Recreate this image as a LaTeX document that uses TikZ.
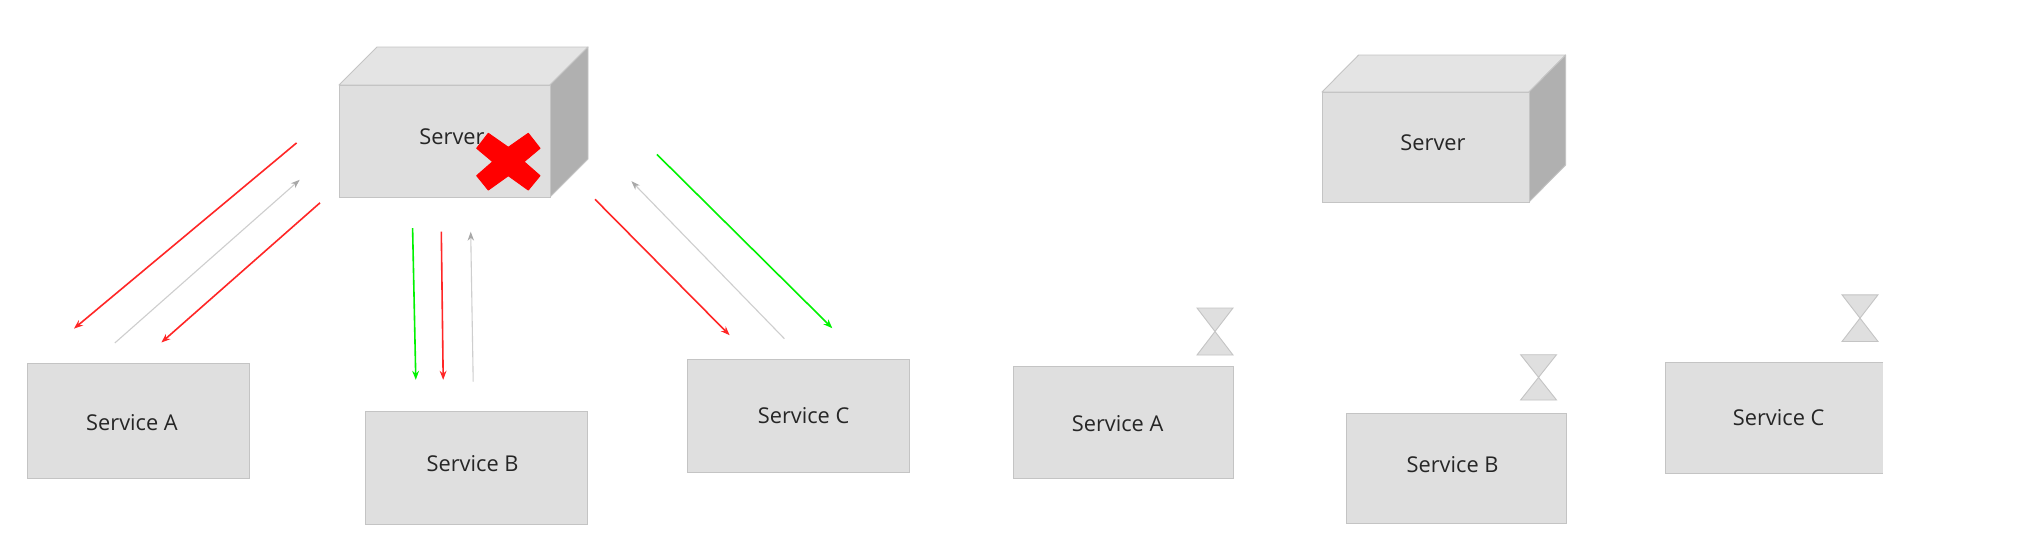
\documentclass[tikz,border=0pt]{standalone}
\usepackage{fontspec}
\setmainfont{Open Sans}
\usetikzlibrary{arrows.meta}
\definecolor{boxfill}{HTML}{DFDFDF}
\definecolor{boxline}{HTML}{C4C4C4}
\definecolor{topfill}{HTML}{E4E4E4}
\definecolor{sidefill}{HTML}{B0B0B0}
\definecolor{arrowgray}{HTML}{CECECE}
\definecolor{headgray}{HTML}{A8A8A8}
\tikzset{
  x=0.5pt,y=-0.5pt,
  boxface/.style={fill=boxfill,draw=boxline,line width=0.45pt},
  topface/.style={fill=topfill,draw=boxline,line width=0.45pt,line join=round},
  sideface/.style={fill=sidefill,draw=boxline,line width=0.45pt,line join=round},
  lbl/.style={font=\fontsize{10.9}{13}\selectfont,text=black!85,inner sep=0pt,anchor=center},
  sandglass/.style={fill=boxfill,draw=boxline,line width=0.45pt,line join=miter},
  redarrow/.style={draw=red!85!white,line width=0.8pt,-{Stealth[length=4.5pt,width=3.4pt,fill=red]}},
  greenarrow/.style={draw=green!95!black,line width=0.8pt,-{Stealth[length=4.5pt,width=3.4pt]}},
  grayarrow/.style={draw=arrowgray,line width=0.55pt,-{Stealth[length=4.5pt,width=3.2pt,color=headgray]}},
}
\newcommand{\cube}[6]{% x0 x1 y0 y1 dx dy
  \path[topface] (#1,#3) -- (#1+#5,#3-#6) -- (#2+#5,#3-#6) -- (#2,#3) -- cycle;
  \path[sideface] (#2,#3) -- (#2+#5,#3-#6) -- (#2+#5,#4-#6) -- (#2,#4) -- cycle;
  \path[boxface] (#1,#3) rectangle (#2,#4);
}
\newcommand{\glass}[4]{% x0 x1 y0 y1
  \path[sandglass] (#1,#3) -- (#2,#3) -- ({(#1+#2)/2},{(#3+#4)/2}) -- cycle;
  \path[sandglass] (#1,#4) -- (#2,#4) -- ({(#1+#2)/2},{(#3+#4)/2}) -- cycle;
}
\begin{document}
\begin{tikzpicture}
\useasboundingbox (0,0) rectangle (2024,546);
\fill[white] (0,0) rectangle (2024,546);
% left
\cube{339}{550}{85}{197}{38}{38}
\path[boxface] (27,363) rectangle (249,478);
\path[boxface] (365,411) rectangle (587,524);
\path[boxface] (687.5,359) rectangle (909,472.5);
\node[lbl] (srvL) at (452,137) {Server};
\node[lbl] (aL) at (132,423) {Service A};
\node[lbl] (bL) at (472.6,464) {Service B};
\node[lbl] (cL) at (803.6,416) {Service C};
\filldraw[red,line width=0.5pt,line join=round] (488.3,133.3) -- (476.7,148.3) -- (492.7,161.7) -- (476.7,175.7) -- (488.3,190) -- (508.3,175.7) -- (528.3,190) -- (540,175.7) -- (524,161.7) -- (540,148.3) -- (528.3,133.3) -- (508.3,147.3) -- cycle;
% arrows
\coordinate (a1s) at (296.6,142.9); \coordinate (a1e) at (74,328.6);
\coordinate (a2s) at (114.8,343);   \coordinate (a2e) at (299.7,179.8);
\coordinate (a3s) at (320,202.8);   \coordinate (a3e) at (161.4,342.5);
\coordinate (b1s) at (412.6,228.2); \coordinate (b1e) at (415.8,379.8);
\coordinate (b2s) at (441.3,231.7); \coordinate (b2e) at (443.2,379.8);
\coordinate (b3s) at (473.2,381.5); \coordinate (b3e) at (470.7,231.7);
\coordinate (c1s) at (595,199.3);   \coordinate (c1e) at (729.6,335.2);
\coordinate (c2s) at (784.4,338.7); \coordinate (c2e) at (631.4,181.2);
\coordinate (c3s) at (656.9,154.4); \coordinate (c3e) at (832.3,328.2);
\draw[redarrow] (a1s) -- (a1e);
\draw[grayarrow] (a2s) -- (a2e);
\draw[redarrow] (a3s) -- (a3e);
\draw[greenarrow] (b1s) -- (b1e);
\draw[redarrow] (b2s) -- (b2e);
\draw[grayarrow] (b3s) -- (b3e);
\draw[redarrow] (c1s) -- (c1e);
\draw[grayarrow] (c2s) -- (c2e);
\draw[greenarrow] (c3s) -- (c3e);
% right
\cube{1322}{1529}{92}{202}{36.6}{37}
\path[boxface] (1013.7,366.5) rectangle (1233,478.7);
\path[boxface] (1346.8,413) rectangle (1566,523.7);
\fill[boxfill] (1665,362.4) rectangle (1883,473.5);
\draw[boxline,line width=0.45pt] (1883,362.4) -- (1665,362.4) -- (1665,473.5) -- (1883,473.5);
\node[lbl] (srvR) at (1433,142.5) {Server};
\node[lbl] (aR) at (1117.6,424) {Service A};
\node[lbl] (bR) at (1452.6,464.5) {Service B};
\node[lbl] (cR) at (1778.6,418) {Service C};
\glass{1197}{1233}{308}{355}
\glass{1520.6}{1556.5}{354.7}{400}
\glass{1842}{1878}{294.8}{341.5}
\end{tikzpicture}
\end{document}
